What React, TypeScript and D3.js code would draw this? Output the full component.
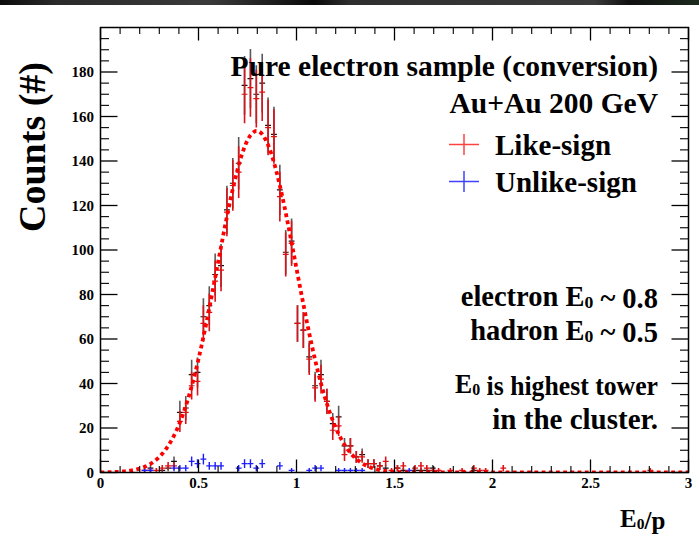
import React from "react";
import * as d3 from "d3";

// Histogram binning: 100 bins of width 0.03 from E0/p = 0 to 3
const binLow = 0;
const binWidth = 0.03;

// Inclusive sample (black points), counts per bin
const inclusiveCounts = [
  0, 0, 0, 0, 0, 0, 0, 0, 2, 0,
  1, 2, 5, 27, 29, 44, 45, 70, 75, 89,
  93, 118, 130, 139, 174, 177, 170, 175, 156, 152,
  127, 99, 104, 67, 64, 52, 39, 44, 32, 22,
  25, 12, 12, 7, 8, 4, 4, 3, 2, 0,
  2, 1, 0, 1, 1, 1, 2, 0, 0, 0,
  0, 0, 0, 1, 0, 0, 0, 0, 0, 0,
  0, 0, 0, 0, 0, 0, 0, 0, 0, 0,
  0, 0, 0, 0, 0, 0, 0, 0, 0, 0,
  0, 0, 0, 0, 0, 0, 0, 0, 0, 0,
];

// Like-sign pairs (red points)
const likeSignCounts = [
  0, 0, 0, 0, 0, 0, 0, 1, 1, 1,
  2, 3, 3, 23, 27, 39, 41, 67, 72, 86,
  91, 117, 129, 135, 170, 173, 168, 171, 155, 151,
  124, 98, 103, 67, 64, 51, 38, 42, 32, 19,
  21, 8, 12, 7, 7, 4, 4, 3, 5, 1,
  2, 3, 0, 2, 3, 2, 1, 1, 0, 1,
  0, 1, 0, 2, 1, 1, 0, 0, 2, 0,
  0, 0, 0, 0, 0, 0, 0, 0, 0, 0,
  0, 0, 0, 0, 0, 0, 0, 0, 0, 0,
  0, 0, 0, 1, 0, 0, 0, 0, 0, 0,
];

// Unlike-sign pairs (blue points)
const unlikeSignCounts = [
  0, 0, 0, 0, 0, 0, 0, 1, 1, 0,
  0, 0, 2, 2, 2, 5, 4, 6, 3, 3,
  3, 0, 0, 2, 4, 4, 2, 4, 0, 0,
  3, 0, 1, 0, 0, 1, 2, 2, 0, 0,
  1, 1, 1, 1, 1, 0, 0, 0, 0, 0,
  0, 0, 1, 0, 0, 0, 0, 0, 0, 0,
  0, 0, 0, 0, 0, 0, 0, 0, 0, 0,
  0, 0, 0, 0, 0, 0, 0, 0, 0, 0,
  0, 0, 0, 0, 0, 0, 0, 0, 0, 0,
  0, 0, 0, 0, 0, 0, 0, 0, 0, 0,
];

// Gaussian fit to the electron peak
const fitAmplitude = 153.5;
const fitMean = 0.797;
const fitSigma = 0.2;

// Axis ticks
const xMajorTicks = [0, 0.5, 1, 1.5, 2, 2.5, 3];
const xTickLabels = ["0", "0.5", "1", "1.5", "2", "2.5", "3"];
const yMajorTicks = [0, 20, 40, 60, 80, 100, 120, 140, 160, 180];

const W = 699;
const H = 537;
const FONT = "'Liberation Serif', 'Times New Roman', serif";

const frame = { left: 100.5, right: 688.5, top: 27.5, bottom: 472.5 };

const x = d3.scaleLinear().domain([0, 3]).range([frame.left, frame.right]);
const y = d3.scaleLinear().domain([0, 200]).range([frame.bottom, frame.top]);

type Pt = { lo: number; hi: number; c: number; n: number };
const toPoints = (counts: number[]): Pt[] =>
  counts
    .map((n, i) => {
      const lo = binLow + i * binWidth;
      return { lo, hi: lo + binWidth, c: lo + binWidth / 2, n };
    })
    .filter((p) => p.n > 0);

function Histo({ counts, barColor, dashColor, barWidth }: { counts: number[]; barColor: string; dashColor: string; barWidth: number }) {
  const pts = toPoints(counts);
  return (
    <g>
      {pts.map((p, i) => {
        const e = Math.sqrt(p.n);
        return (
          <g key={i}>
            <line x1={x(p.c)} x2={x(p.c)} y1={y(Math.max(0, p.n - e))} y2={y(p.n + e)} stroke={barColor} strokeWidth={barWidth} />
            <line x1={x(p.lo)} x2={x(p.hi)} y1={y(p.n)} y2={y(p.n)} stroke={dashColor} strokeWidth={1.2} />
          </g>
        );
      })}
    </g>
  );
}

function Sub({ children }: { children: React.ReactNode }) {
  return (
    <>
      <tspan fontSize="62%" dy={2}>{children}</tspan>
      <tspan dy={-2}></tspan>
    </>
  );
}

export default function App() {
  const fitPts = d3.range(0, 3.0001, 0.005).map((v) => [v, fitAmplitude * Math.exp(-((v - fitMean) ** 2) / (2 * fitSigma * fitSigma))] as [number, number]);
  const fitPath = d3.line<[number, number]>().x((d) => x(d[0])).y((d) => y(d[1]))(fitPts) || "";

  const xMinor = d3.range(0, 3.0001, 0.1).filter((v) => Math.abs(v * 2 - Math.round(v * 2)) > 1e-6);
  const yMinor = d3.range(0, 200, 5).filter((v) => v % 20 !== 0);

  const majX = 13, minX = 6.5, majY = 17, minY = 8.5;
  const txt = { fontFamily: FONT, fontWeight: 700 as const, fill: "#000" };

  return (
    <svg width={W} height={H} style={{ position: "absolute", left: 0, top: 0, background: "#fff" }}>
      <defs>
        <linearGradient id="topband" x1="0" x2="1" y1="0" y2="0">
          <stop offset="0" stopColor="#0c0c0c" />
          <stop offset="0.08" stopColor="#2a2a2a" />
          <stop offset="0.3" stopColor="#3a3a3a" />
          <stop offset="0.45" stopColor="#0a0a0a" />
          <stop offset="0.5" stopColor="#2e2e2e" />
          <stop offset="0.85" stopColor="#3a3a3a" />
          <stop offset="0.9" stopColor="#101010" />
          <stop offset="1" stopColor="#1c2a1c" />
        </linearGradient>
        <clipPath id="frameclip">
          <rect x={frame.left} y={frame.top} width={frame.right - frame.left} height={frame.bottom - frame.top} />
        </clipPath>
      </defs>
      <rect x={0} y={0} width={W} height={5} fill="url(#topband)" />

      {/* data */}
      <g clipPath="url(#frameclip)">
        <Histo counts={inclusiveCounts} barColor="#5a5a5a" dashColor="#111" barWidth={1.6} />
        <Histo counts={likeSignCounts} barColor="#d8141a" dashColor="#e01010" barWidth={1.6} />
        <Histo counts={unlikeSignCounts} barColor="#1c1cff" dashColor="#1c1cff" barWidth={1.4} />
        <path d={fitPath} fill="none" stroke="#ff0000" strokeWidth={3.8} strokeDasharray="3.8 3.4" />
      </g>

      {/* frame */}
      <rect x={frame.left} y={frame.top} width={frame.right - frame.left} height={frame.bottom - frame.top} fill="none" stroke="#000" strokeWidth={1.5} />

      {/* x ticks (bottom and top, inside) */}
      {xMajorTicks.map((v) => (
        <g key={"xm" + v}>
          <line x1={x(v)} x2={x(v)} y1={frame.bottom} y2={frame.bottom - majX} stroke="#000" strokeWidth={1.3} />
          <line x1={x(v)} x2={x(v)} y1={frame.top} y2={frame.top + majX} stroke="#000" strokeWidth={1.3} />
        </g>
      ))}
      {xMinor.map((v) => (
        <g key={"xn" + v}>
          <line x1={x(v)} x2={x(v)} y1={frame.bottom} y2={frame.bottom - minX} stroke="#000" strokeWidth={1.1} />
          <line x1={x(v)} x2={x(v)} y1={frame.top} y2={frame.top + minX} stroke="#000" strokeWidth={1.1} />
        </g>
      ))}
      {/* y ticks (left and right, inside) */}
      {yMajorTicks.map((v) => (
        <g key={"ym" + v}>
          <line x1={frame.left} x2={frame.left + majY} y1={y(v)} y2={y(v)} stroke="#000" strokeWidth={1.3} />
          <line x1={frame.right} x2={frame.right - majY} y1={y(v)} y2={y(v)} stroke="#000" strokeWidth={1.3} />
        </g>
      ))}
      {yMinor.map((v) => (
        <g key={"yn" + v}>
          <line x1={frame.left} x2={frame.left + minY} y1={y(v)} y2={y(v)} stroke="#000" strokeWidth={1.1} />
          <line x1={frame.right} x2={frame.right - minY} y1={y(v)} y2={y(v)} stroke="#000" strokeWidth={1.1} />
        </g>
      ))}

      {/* tick labels */}
      {xMajorTicks.map((v, i) => (
        <text key={"xl" + v} x={x(v)} y={488} textAnchor="middle" fontSize={15} {...txt}>{xTickLabels[i]}</text>
      ))}
      {yMajorTicks.map((v) => (
        <text key={"yl" + v} x={94} y={y(v) + 5} textAnchor="end" fontSize={15} {...txt}>{v}</text>
      ))}

      {/* axis titles */}
      <text transform="translate(45,147) rotate(-90)" textAnchor="middle" fontSize={38} {...txt}>Counts (#)</text>
      <text x={620} y={527} fontSize={25} {...txt}>E<Sub>0</Sub>/p</text>

      {/* annotations */}
      <text x={658} y={76} textAnchor="end" fontSize={29.5} {...txt}>Pure electron sample (conversion)</text>
      <text x={658} y={113} textAnchor="end" fontSize={29.5} {...txt}>Au+Au 200 GeV</text>

      {/* legend */}
      <g>
        <line x1={449} x2={479} y1={144.5} y2={144.5} stroke="#ff4040" strokeWidth={1.5} />
        <line x1={464} x2={464} y1={134} y2={155} stroke="#ff4040" strokeWidth={1.5} />
        <text x={495} y={155} fontSize={29} {...txt}>Like-sign</text>
        <line x1={449} x2={479} y1={181.5} y2={181.5} stroke="#4040ff" strokeWidth={1.5} />
        <line x1={464} x2={464} y1={171} y2={192} stroke="#4040ff" strokeWidth={1.5} />
        <text x={495} y={192} fontSize={29} {...txt}>Unlike-sign</text>
      </g>

      <text x={658} y={306} textAnchor="end" fontSize={28.5} {...txt}>electron E<Sub>0</Sub> ~ 0.8</text>
      <text x={658} y={340} textAnchor="end" fontSize={28.5} {...txt}>hadron E<Sub>0</Sub> ~ 0.5</text>
      <text x={658} y={393} textAnchor="end" fontSize={28} textLength={203} lengthAdjust="spacingAndGlyphs" {...txt}>E<Sub>0</Sub> is highest tower</text>
      <text x={658} y={429} textAnchor="end" fontSize={29} {...txt}>in the cluster.</text>
    </svg>
  );
}
